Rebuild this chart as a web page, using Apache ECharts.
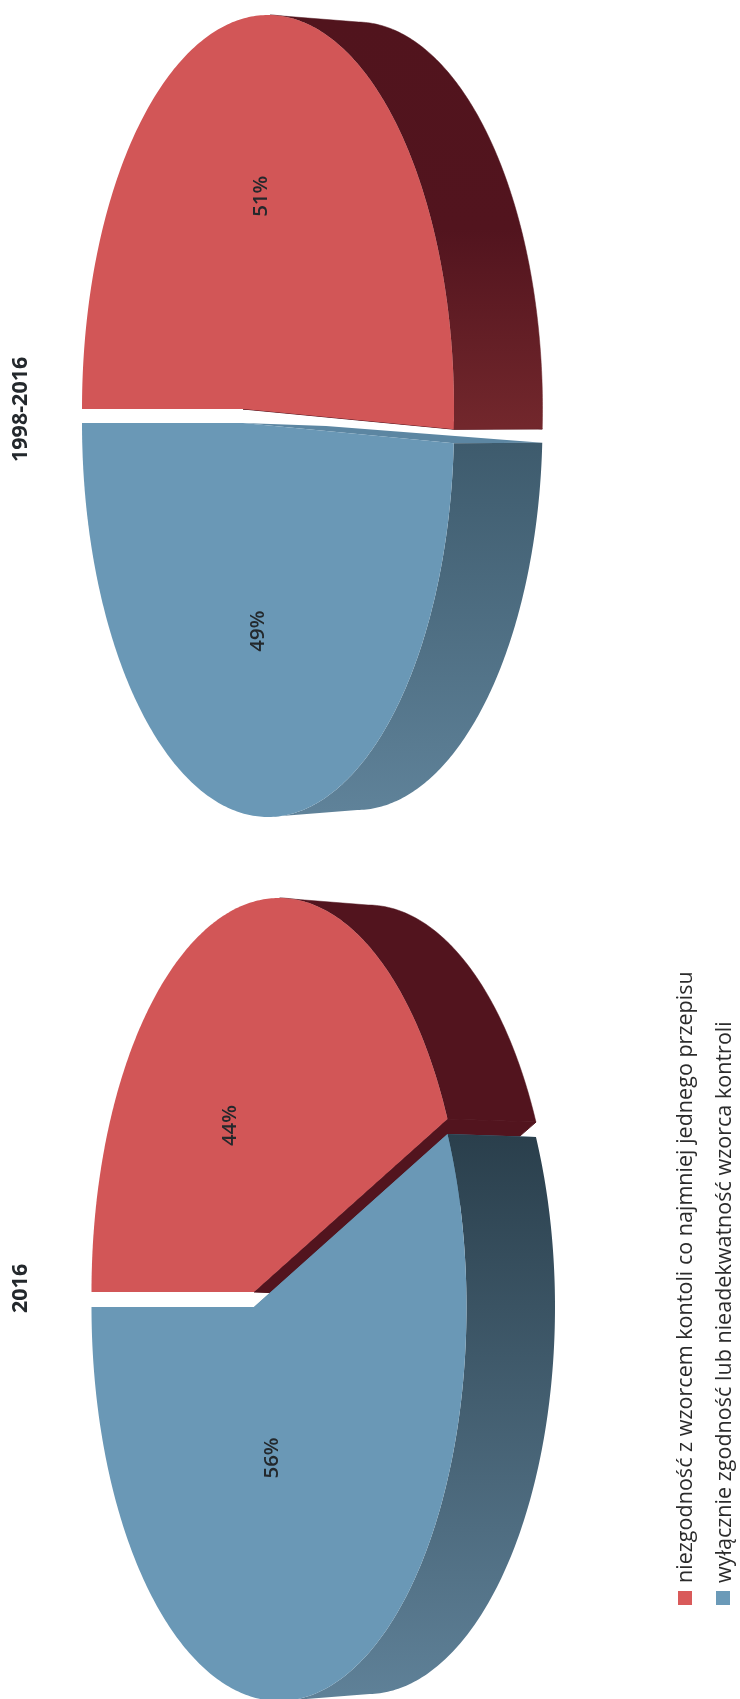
<!DOCTYPE html>
<html><head><meta charset="utf-8">
<style>html,body{margin:0;padding:0;background:#fff}#c{width:740px;height:1699px}</style>
<script src="https://cdn.jsdelivr.net/npm/echarts@6/dist/echarts.min.js"></script>
</head><body><div id="c"></div>
<script>
// ---- data ----
const categories = ['niezgodność z wzorcem kontoli co najmniej jednego przepisu',
                    'wyłącznie zgodność lub nieadekwatność wzorca kontroli'];
const periods = ['1998-2016', '2016'];
const values1998_2016 = [51, 49];
const values2016 = [44, 56];

// ---- styling / layout ----
const FACE = ['#d25657', '#6a98b6'];
const CUT = ['#52141e', '#5c86a2'];
const FONT = '"Open Sans","Noto Sans",sans-serif';
const layouts = [
  { cx: 268, rx: 186, ry: 394, cys: [409, 423], warp: 0.2, apexDx: -25, labelShift: [[-16, -21], [-13, 14]],
    walls: [
      { y1: 16, y2: 426, stops: [[0, '#51141d'], [0.52, '#52141e'], [1, '#72272c']] },
      { y1: 444, y2: 811, stops: [[0, '#3e5b6d'], [1, '#5f8299']] }] },
  { cx: 279, rx: 187.5, ry: 394, cys: [1292, 1307], warp: -0.19, apexDx: -25, labelShift: [[-2, 17], [6, -46]],
    walls: [
      { y1: 900, y2: 1125, stops: [[0, '#52141e'], [1, '#52141e']] },
      { y1: 1136, y2: 1700, stops: [[0, '#2a3f4c'], [1, '#5f8198']] }] }
];
const DEPTH_X = 88.5, BACK_RY = 387, BACK_APEX = [83, 3];

function warped(phi, e) {
  const c = Math.cos(phi), s = Math.sin(phi), d = 1 + e * c;
  return [(c + e) / d, Math.sqrt(1 - e * e) * s / d];
}
function sliceRenderer(values, L) {
  const total = values.reduce((a, b) => a + b, 0);
  return function (params, api) {
    const i = params.dataIndex;
    const before = values.slice(0, i).reduce((a, b) => a + b, 0);
    const a0 = Math.PI + before / total * 2 * Math.PI;
    const a1 = a0 + values[i] / total * 2 * Math.PI;
    const cy = L.cys[i], N = 260;
    const fr = [], bk = [], wf = [], wb = [];
    for (let k = 0; k <= N; k++) {
      const u = warped(a0 + (a1 - a0) * k / N, L.warp);
      const f = [L.cx + L.rx * u[0], cy + L.ry * u[1]];
      const b = [L.cx + DEPTH_X + L.rx * u[0], cy + BACK_RY * u[1]];
      fr.push(f); bk.push(b);
      if (u[0] >= 0) { wf.push(f); wb.push(b); }
    }
    const apex = [L.cx + L.apexDx, cy];
    const apexB = [apex[0] + BACK_APEX[0], apex[1] + BACK_APEX[1]];
    // the cut edge that can show: the end of the red slice, the start of the blue one
    const rimF = i === 0 ? fr[N] : fr[0], rimB = i === 0 ? bk[N] : bk[0];
    const w = L.walls[i];
    const grad = new echarts.graphic.LinearGradient(0, w.y1, 0, w.y2,
      w.stops.map(s => ({ offset: s[0], color: s[1] })), true);
    const mid = warped((a0 + a1) / 2, L.warp);
    const rimM = [L.cx + L.rx * mid[0], cy + L.ry * mid[1]];
    const sh = L.labelShift[i];
    return {
      type: 'group', silent: true, children: [
        { type: 'polygon', shape: { points: [apex, apexB, rimB, rimF] }, style: { fill: CUT[i], stroke: i === 0 ? CUT[i] : null, lineWidth: 1 } },
        { type: 'polygon', shape: { points: wf.concat(wb.slice().reverse()) }, style: { fill: grad, stroke: i === 0 ? grad : null, lineWidth: 0.5 } },
        { type: 'polygon', shape: { points: [apex].concat(fr) }, style: { fill: FACE[i] } },
        { type: 'text', x: (apex[0] + rimM[0]) / 2 + sh[0], y: (apex[1] + rimM[1]) / 2 + sh[1], rotation: Math.PI / 2,
          style: { text: values[i] + '%', fill: '#23282c', font: '600 20.5px ' + FONT, align: 'center', verticalAlign: 'middle' } }
      ]
    };
  };
}
function rotatedText(text, x, y, font, fill) {
  return { type: 'text', x: x, y: y, rotation: Math.PI / 2, silent: true,
    style: { text: text, font: font, fill: fill, align: 'left', verticalAlign: 'middle' } };
}
const chart = echarts.init(document.getElementById('c'), null, { renderer: 'canvas' });
chart.setOption({
  animation: false,
  backgroundColor: '#fff',
  graphic: { elements: [
    rotatedText(periods[0], 21, 462, 'bold 21.5px ' + FONT, '#23282c'),
    rotatedText(periods[1], 21, 1313, 'bold 21.5px ' + FONT, '#23282c'),
    { type: 'rect', shape: { x: 678, y: 1591, width: 14, height: 14 }, style: { fill: '#d95a5a' } },
    { type: 'rect', shape: { x: 716, y: 1591, width: 14, height: 14 }, style: { fill: '#6b9ab8' } },
    rotatedText(categories[0], 686, 1583, '21.55px ' + FONT, '#2b2b2b'),
    rotatedText(categories[1], 725, 1583, '21.55px ' + FONT, '#2b2b2b')
  ] },
  series: [
    { type: 'custom', coordinateSystem: 'none', clip: false, renderItem: sliceRenderer(values1998_2016, layouts[0]),
      data: values1998_2016.map((v, i) => ({ name: categories[i], value: [i, v] })) },
    { type: 'custom', coordinateSystem: 'none', clip: false, renderItem: sliceRenderer(values2016, layouts[1]),
      data: values2016.map((v, i) => ({ name: categories[i], value: [i, v] })) }
  ]
});
</script></body></html>
